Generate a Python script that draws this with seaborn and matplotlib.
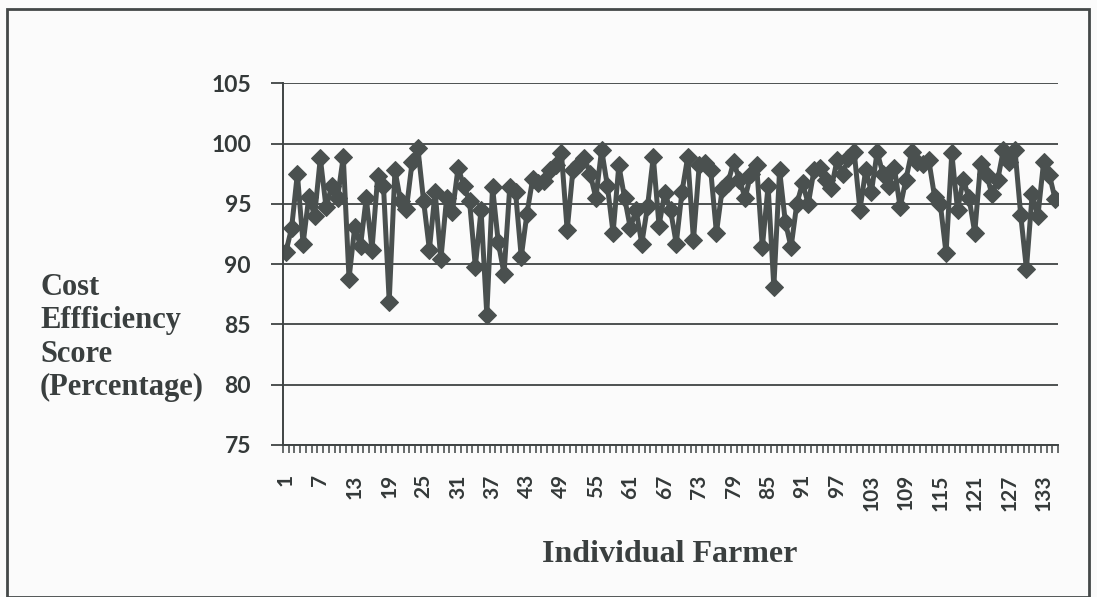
import matplotlib
matplotlib.use("Agg")
import matplotlib.pyplot as plt
from matplotlib.patches import Rectangle
import seaborn as sns
import pandas as pd
import numpy as np

# ---- data ----
farmer = list(range(1, 136))
scores = [
    91.0, 93.0, 97.5, 91.7, 95.6, 94.0, 98.8, 94.7, 96.5, 95.5,
    98.9, 88.8, 93.1, 91.5, 95.5, 91.2, 97.3, 96.5, 86.9, 97.8,
    95.2, 94.6, 98.5, 99.6, 95.2, 91.2, 96.0, 90.4, 95.5, 94.3,
    98.0, 96.5, 95.2, 89.8, 94.5, 85.8, 96.4, 91.8, 89.2, 96.4,
    96.0, 90.6, 94.2, 97.1, 96.7, 96.9, 97.8, 98.2, 99.2, 92.8,
    97.8, 98.3, 98.8, 97.5, 95.5, 99.5, 96.5, 92.6, 98.2, 95.5,
    93.0, 94.5, 91.7, 94.8, 98.9, 93.2, 95.9, 94.5, 91.7, 96.0,
    98.9, 92.0, 98.2, 98.4, 97.8, 92.6, 96.2, 96.7, 98.5, 97.0,
    95.5, 97.5, 98.2, 91.4, 96.5, 88.1, 97.8, 93.5, 91.4, 95.0,
    96.7, 95.0, 97.8, 98.0, 97.0, 96.3, 98.6, 97.5, 98.8, 99.3,
    94.5, 97.8, 96.0, 99.3, 97.5, 96.5, 98.0, 94.7, 97.0, 99.3,
    98.5, 98.3, 98.6, 95.6, 95.0, 90.9, 99.2, 94.5, 97.0, 95.5,
    92.6, 98.3, 97.5, 95.8, 97.0, 99.5, 98.5, 99.5, 94.1, 89.6,
    95.8, 94.0, 98.5, 97.4, 95.4,
]
y_ticks = [75, 80, 85, 90, 95, 100, 105]
x_tick_vals = list(range(1, 136, 6))
x_tick_labels = [str(v) for v in x_tick_vals]

df = pd.DataFrame({"Farmer": farmer, "Score": scores})

# ---- style ----
sns.set_style("white")
plt.rcParams["font.family"] = ["Lato", "DejaVu Sans"]
plt.rcParams["xtick.bottom"] = True
plt.rcParams["ytick.left"] = True

W, H = 1097, 597
fig = plt.figure(figsize=(W / 100, H / 100), dpi=100, facecolor="#fbfbfb")
ax = fig.add_axes([283 / W, 1 - 445 / H, (1058 - 283) / W, (445 - 83.3) / H])
ax.set_facecolor("#fbfbfb")

line_col = "#4a504f"
sns.lineplot(data=df, x="Farmer", y="Score", ax=ax, color=line_col,
             linewidth=3.6, marker="D", markersize=9.0,
             markeredgecolor=line_col, markerfacecolor=line_col)

ax.set_xlim(0.5, 135.5)
ax.set_ylim(75, 105)
ax.set_yticks(y_ticks)
ax.set_yticklabels([str(v) for v in y_ticks], fontsize=16.5, fontweight="bold", color="#343939")
ax.yaxis.grid(True, color="#3f4444", linewidth=1.3)
ax.set_axisbelow(True)

ax.set_xticks(x_tick_vals)
ax.set_xticklabels(x_tick_labels, rotation=90, fontsize=15, fontweight="bold", color="#343939")
ax.set_xticks(np.arange(0.5, 136, 1.0), minor=True)
ax.tick_params(axis="x", which="major", bottom=True, length=0, pad=21)
ax.tick_params(axis="x", which="minor", bottom=True, length=6, width=1.1, color="#3f4444", direction="out")
ax.tick_params(axis="y", which="major", left=True, length=9, width=1.3, color="#3f4444", pad=14)

for s in ["top", "right"]:
    ax.spines[s].set_visible(False)
for s in ["left", "bottom"]:
    ax.spines[s].set_color("#3f4444")
    ax.spines[s].set_linewidth(1.4)

ax.set_xlabel("")
ax.set_ylabel("")

serif = ["Liberation Serif", "DejaVu Serif"]
fig.text(40 / W, 1 - 273 / H, "Cost\nEffficiency\nScore\n(Percentage)",
         ha="left", va="top", fontsize=22, fontweight="bold", family=serif,
         color="#3a3f3f", linespacing=1.2)
fig.text(670 / W, 1 - 555 / H, "Individual Farmer", ha="center", va="center",
         fontsize=23, fontweight="bold", family=serif, color="#3a3f3f")

fig.patches.append(Rectangle((7 / W, 0.0), (1089 - 7) / W, 1 - 9 / H,
                             transform=fig.transFigure, fill=False,
                             edgecolor="#444848", linewidth=2))

fig.savefig("out.png", dpi=100, facecolor=fig.get_facecolor())
